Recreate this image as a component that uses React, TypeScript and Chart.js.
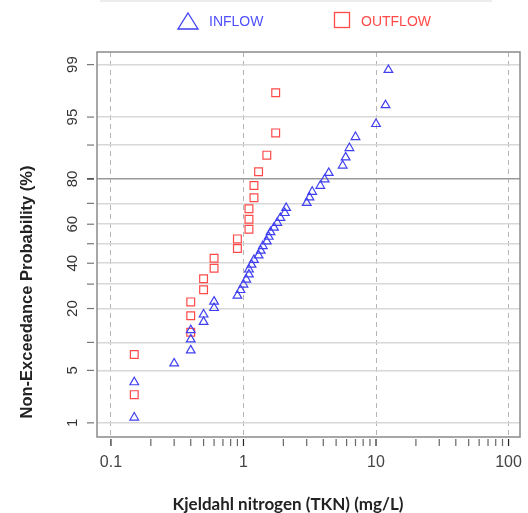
import React, { useEffect, useRef } from "react";
import { Chart, registerables } from "chart.js";

Chart.register(...registerables);

// ---- Data ----
const inflowTKN = [
  0.15, 0.15, 0.3, 0.4, 0.4, 0.4, 0.5, 0.5, 0.6, 0.6, 0.9, 0.95, 1.0, 1.05,
  1.1, 1.1, 1.15, 1.2, 1.3, 1.35, 1.4, 1.5, 1.55, 1.6, 1.7, 1.8, 1.9, 2.05,
  2.1, 3.0, 3.15, 3.3, 3.8, 4.1, 4.4, 5.6, 5.9, 6.3, 7.0, 10.0, 11.8, 12.4,
];
const inflowProb = [
  1.2, 3.6, 6.0, 8.3, 10.7, 13.1, 15.5, 17.9, 20.2, 22.6, 25.0, 27.4, 29.8,
  32.1, 34.5, 36.9, 39.3, 41.7, 44.0, 46.4, 48.8, 51.2, 53.6, 56.0, 58.3,
  60.7, 63.1, 65.5, 67.9, 70.2, 72.6, 75.0, 77.4, 79.8, 82.1, 84.5, 86.9,
  89.3, 91.7, 94.0, 96.4, 98.8,
];
const outflowTKN = [
  0.15, 0.15, 0.4, 0.4, 0.4, 0.5, 0.5, 0.6, 0.6, 0.9, 0.9, 1.1, 1.1, 1.1, 1.2,
  1.2, 1.3, 1.5, 1.75, 1.75,
];
const outflowProb = [
  2.5, 7.5, 12.5, 17.5, 22.5, 27.5, 32.5, 37.5, 42.5, 47.5, 52.5, 57.5, 62.5,
  67.5, 72.5, 77.5, 82.5, 87.5, 92.5, 97.5,
];
const yTickProbs = [1, 5, 10, 20, 30, 40, 50, 60, 70, 80, 90, 95, 99];
const yLabelProbs = [1, 5, 20, 40, 60, 80, 95, 99];
const xTickValues = [
  0.1, 0.2, 0.3, 0.4, 0.5, 0.6, 0.7, 0.8, 0.9, 1, 2, 3, 4, 5, 6, 7, 8, 9, 10,
  20, 30, 40, 50, 60, 70, 80, 90, 100,
];
const xLabelValues = [0.1, 1, 10, 100];
const seriesNames = ["INFLOW", "OUTFLOW"];
const xTitle = "Kjeldahl nitrogen (TKN) (mg/L)";
const yTitle = "Non-Exceedance Probability (%)";

// inverse standard normal CDF (Acklam)
function invNorm(p: number): number {
  const a = [-3.969683028665376e1, 2.209460984245205e2, -2.759285104469687e2, 1.38357751867269e2, -3.066479806614716e1, 2.506628277459239];
  const b = [-5.447609879822406e1, 1.615858368580409e2, -1.556989798598866e2, 6.680131188771972e1, -1.328068155288572e1];
  const c = [-7.784894002430293e-3, -3.223964580411365e-1, -2.400758277161838, -2.549732539343734, 4.374664141464968, 2.938163982698783];
  const d = [7.784695709041462e-3, 3.224671290700398e-1, 2.445134137142996, 3.754408661907416];
  const pl = 0.02425;
  let q: number, r: number;
  if (p < pl) {
    q = Math.sqrt(-2 * Math.log(p));
    return (((((c[0] * q + c[1]) * q + c[2]) * q + c[3]) * q + c[4]) * q + c[5]) / ((((d[0] * q + d[1]) * q + d[2]) * q + d[3]) * q + 1);
  }
  if (p <= 1 - pl) {
    q = p - 0.5;
    r = q * q;
    return ((((((a[0] * r + a[1]) * r + a[2]) * r + a[3]) * r + a[4]) * r + a[5]) * q) / (((((b[0] * r + b[1]) * r + b[2]) * r + b[3]) * r + b[4]) * r + 1);
  }
  q = Math.sqrt(-2 * Math.log(1 - p));
  return -(((((c[0] * q + c[1]) * q + c[2]) * q + c[3]) * q + c[4]) * q + c[5]) / ((((d[0] * q + d[1]) * q + d[2]) * q + d[3]) * q + 1);
}

const BLUE = "#3f3ff0";
const RED = "#ff4a4a";

export default function App() {
  const ref = useRef<HTMLCanvasElement | null>(null);

  useEffect(() => {
    document.body.style.margin = "0";
    const canvas = ref.current;
    if (!canvas) return;

    const decorations = {
      id: "decorations",
      afterDraw(chart: any) {
        const ctx = chart.ctx as CanvasRenderingContext2D;
        const area = chart.chartArea;
        const xs = chart.scales.x;
        const ys = chart.scales.y;
        ctx.save();
        // plot box
        ctx.strokeStyle = "#8a8a8a";
        ctx.lineWidth = 1.5;
        ctx.strokeRect(area.left, area.top, area.right - area.left, area.bottom - area.top);

        // x tick marks
        ctx.lineWidth = 1.2;
        xTickValues.forEach((v) => {
          const px = xs.getPixelForValue(v);
          ctx.strokeStyle = xLabelValues.includes(v) ? "#222" : "#666";
          ctx.beginPath();
          ctx.moveTo(px, area.bottom + 2);
          ctx.lineTo(px, area.bottom + 9);
          ctx.stroke();
        });
        // x labels
        ctx.fillStyle = "#444";
        ctx.font = "16px 'Liberation Sans', Arial, sans-serif";
        ctx.textAlign = "center";
        ctx.textBaseline = "middle";
        xLabelValues.forEach((v) => {
          ctx.fillText(String(v), xs.getPixelForValue(v), area.bottom + 26);
        });

        // y tick marks
        yTickProbs.forEach((p) => {
          const py = ys.getPixelForValue(invNorm(p / 100));
          ctx.strokeStyle = p === 80 ? "#000" : "#777";
          ctx.beginPath();
          ctx.moveTo(area.left - 10, py);
          ctx.lineTo(area.left - 3, py);
          ctx.stroke();
        });
        // y labels (rotated)
        ctx.fillStyle = "#333";
        ctx.font = "15px 'Liberation Sans', Arial, sans-serif";
        yLabelProbs.forEach((p) => {
          const py = ys.getPixelForValue(invNorm(p / 100));
          ctx.save();
          ctx.translate(area.left - 24, py);
          ctx.rotate(-Math.PI / 2);
          ctx.fillText(String(p), 0, 0);
          ctx.restore();
        });

        // axis titles
        ctx.fillStyle = "#222";
        ctx.font = "bold 17px Lato, 'Open Sans', sans-serif";
        ctx.fillText(xTitle, 288, 505);
        ctx.save();
        ctx.translate(27, 292);
        ctx.rotate(-Math.PI / 2);
        ctx.font = "bold 16.5px 'Liberation Sans', Arial, sans-serif";
        ctx.fillText(yTitle, 0, 0);
        ctx.restore();

        // legend
        ctx.strokeStyle = "#e6e6e6";
        ctx.lineWidth = 1.5;
        ctx.beginPath();
        ctx.moveTo(100, 1);
        ctx.lineTo(492, 1);
        ctx.stroke();

        ctx.lineWidth = 1.3;
        ctx.strokeStyle = BLUE;
        ctx.beginPath();
        ctx.moveTo(188, 13);
        ctx.lineTo(198, 29);
        ctx.lineTo(178, 29);
        ctx.closePath();
        ctx.stroke();
        ctx.strokeStyle = RED;
        ctx.strokeRect(334.5, 12.5, 15, 15);

        ctx.font = "14px 'Liberation Sans', Arial, sans-serif";
        ctx.textAlign = "left";
        ctx.fillStyle = "#5050ff";
        ctx.fillText(seriesNames[0], 209, 22);
        ctx.fillStyle = RED;
        ctx.fillText(seriesNames[1], 361, 22);
        ctx.restore();
      },
    };

    const chart = new Chart(canvas, {
      type: "scatter",
      data: {
        datasets: [
          {
            label: seriesNames[0],
            data: inflowTKN.map((v, i) => ({ x: v, y: invNorm(inflowProb[i] / 100) })),
            pointStyle: "triangle",
            pointRadius: 5,
            borderColor: BLUE,
            backgroundColor: "rgba(0,0,0,0)",
            borderWidth: 1.2,
          },
          {
            label: seriesNames[1],
            data: outflowTKN.map((v, i) => ({ x: v, y: invNorm(outflowProb[i] / 100) })),
            pointStyle: "rect",
            pointRadius: 5.5,
            borderColor: RED,
            backgroundColor: "rgba(0,0,0,0)",
            borderWidth: 1.2,
          },
        ],
      },
      options: {
        animation: false,
        responsive: false,
        layout: { padding: { top: 52, right: 8, left: 0, bottom: 0 } },
        plugins: { legend: { display: false }, tooltip: { enabled: false } },
        scales: {
          x: {
            type: "logarithmic",
            min: 0.0785,
            max: 122,
            afterBuildTicks: (scale: any) => {
              scale.ticks = xTickValues.map((v) => ({ value: v }));
            },
            afterFit: (scale: any) => {
              scale.height = 76;
            },
            ticks: { display: false },
            grid: {
              drawTicks: false,
              lineWidth: 1,
              color: (c: any) =>
                c.tick && xLabelValues.includes(c.tick.value) ? "#b5b5b5" : "rgba(0,0,0,0)",
            },
            border: { display: false, dash: [5, 4] },
          },
          y: {
            type: "linear",
            min: -2.51,
            max: 2.49,
            afterBuildTicks: (scale: any) => {
              scale.ticks = yTickProbs.map((p) => ({ value: invNorm(p / 100) }));
            },
            afterFit: (scale: any) => {
              scale.width = 97;
            },
            ticks: { display: false },
            grid: {
              drawTicks: false,
              lineWidth: 1.5,
              color: (c: any) =>
                c.tick && Math.abs(c.tick.value - invNorm(0.8)) < 1e-6 ? "#9a9a9a" : "#d8d8d8",
            },
            border: { display: false },
          },
        },
      },
      plugins: [decorations],
    });
    return () => chart.destroy();
  }, []);

  return (
    <div style={{ width: 528, height: 513, background: "#fff" }}>
      <canvas ref={ref} width={528} height={513} />
    </div>
  );
}
